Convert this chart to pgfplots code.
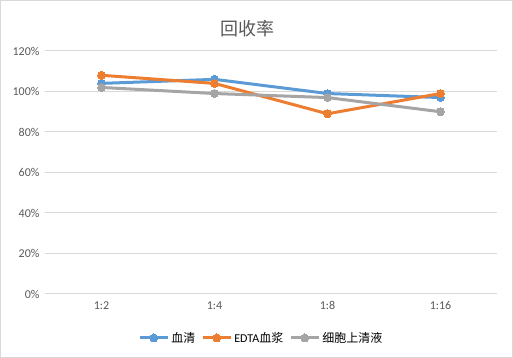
\documentclass[border=0pt]{standalone}
\usepackage{pgfplots}
\pgfplotsset{compat=1.18}
\usepackage{fontspec}
\setmainfont{Carlito}
\newfontfamily\cjk{Noto Sans CJK SC}
\definecolor{cblue}{HTML}{5B9BD5}
\definecolor{corange}{HTML}{ED7D31}
\definecolor{cgray}{HTML}{A5A5A5}
\definecolor{ctext}{HTML}{595959}
\definecolor{cgrid}{HTML}{D9D9D9}
\begin{document}
\begin{tikzpicture}[x=1pt,y=1pt]
\draw[cgrid, line width=1pt] (0.5,0.5) rectangle (512.5,357.5);
\node[text=ctext, font=\cjk\fontsize{18}{20}\selectfont] at (247,329) {回收率};
\begin{axis}[at={(45pt,64pt)}, anchor=south west, scale only axis,
  width=452pt, height=243pt,
  xmin=-0.5, xmax=3.5, ymin=0, ymax=120,
  ytick={0,20,...,120}, xtick={0,1,2,3}, xticklabels={1:2,1:4,1:8,1:16},
  yticklabel={\pgfmathprintnumber{\tick}\%},
  /pgf/number format/assume math mode=true,
  ymajorgrids, grid style={cgrid, line width=1pt},
  axis line style={draw=none}, major tick length=0pt,
  tick label style={text=ctext, font=\fontsize{12}{14}\selectfont},
  yticklabel style={xshift=-2pt},
  xticklabel style={yshift=-4pt},
  clip=false,
  legend columns=3,
  legend style={at={(0.206,-0.181)}, anchor=west, draw=none, fill=none,
    font=\fontsize{12}{14}\selectfont, text=black,
    /tikz/every even column/.append style={column sep=4pt},
    inner sep=0pt},
  legend image code/.code={\draw[mark repeat=2,mark phase=2,#1] plot coordinates {(0pt,0pt)(14pt,0pt)(28pt,0pt)};},
  every axis plot/.append style={line width=3pt, mark=*, mark size=4pt, mark options={line width=0pt}},
]
\addplot[cblue] coordinates {(0,104) (1,106) (2,99) (3,97)};
\addlegendentry{\cjk 血清}
\addplot[corange] coordinates {(0,108) (1,104) (2,89) (3,99)};
\addlegendentry{EDTA{\cjk 血浆}}
\addplot[cgray] coordinates {(0,102) (1,99) (2,97) (3,90)};
\addlegendentry{\cjk 细胞上清液}
\end{axis}
\end{tikzpicture}
\end{document}
